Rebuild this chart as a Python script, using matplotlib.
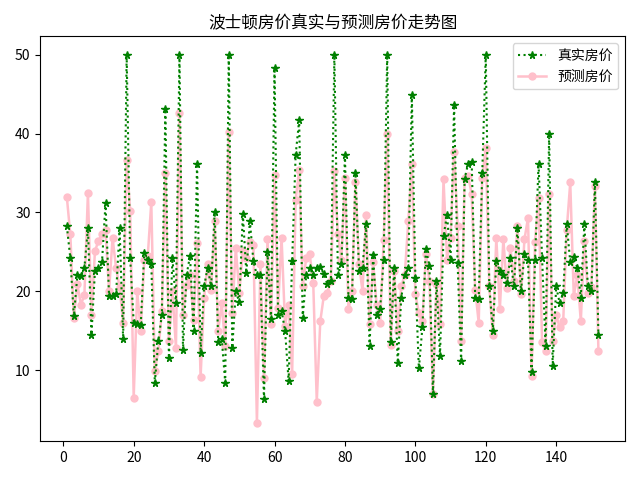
import matplotlib
matplotlib.use("Agg")
import matplotlib.pyplot as plt
import numpy as np

plt.rcParams['font.family'] = ['Noto Sans CJK SC', 'DejaVu Sans']
plt.rcParams['axes.unicode_minus'] = False

real_price = [
    28.3, 24.2, 16.8, 22.0, 21.9, 23.0, 28.0, 14.5, 22.6, 23.0,
    23.7, 31.2, 19.4, 19.4, 19.6, 28.0, 13.9, 50.0, 24.2, 16.0,
    15.9, 15.7, 24.9, 24.0, 23.4, 8.4, 13.7, 17.0, 43.1, 11.5,
    24.2, 18.5, 50.0, 12.6, 22.0, 24.5, 14.9, 36.2, 12.2, 20.6,
    23.0, 20.6, 30.1, 13.5, 14.0, 8.4, 50.0, 12.8, 20.0, 18.6,
    29.8, 22.3, 28.9, 23.8, 22.0, 22.0, 6.3, 25.0, 16.5, 48.3,
    17.0, 17.5, 15.0, 8.6, 23.8, 37.3, 41.7, 16.6, 22.0, 23.0,
    22.0, 23.0, 23.1, 22.2, 20.9, 21.3, 50.0, 22.1, 23.4, 37.3,
    19.2, 19.0, 35.0, 22.6, 23.0, 28.5, 13.0, 24.6, 17.0, 17.8,
    24.0, 50.0, 13.6, 23.0, 10.9, 19.2, 22.0, 23.0, 44.9, 21.7,
    10.2, 15.4, 25.4, 23.2, 7.0, 21.3, 11.8, 27.0, 29.7, 24.0,
    43.6, 23.6, 11.1, 34.3, 36.2, 36.4, 19.2, 19.0, 35.0, 50.0,
    20.6, 15.0, 23.8, 22.6, 22.1, 21.1, 24.2, 20.6, 28.0, 20.0,
    24.7, 24.0, 9.8, 24.0, 36.2, 24.2, 13.0, 39.9, 10.5, 20.6,
    18.5, 19.8, 28.5, 23.7, 24.4, 23.0, 19.2, 28.5, 20.6, 20.0,
    33.8, 14.5,
]

pred_price = [
    32.0, 27.2, 16.6, 20.9, 18.3, 19.5, 32.5, 17.0, 25.1, 26.4,
    27.2, 27.8, 20.0, 26.8, 22.9, 20.5, 16.0, 36.7, 30.2, 6.5,
    20.0, 14.9, 24.0, 24.5, 31.3, 9.9, 12.4, 17.5, 35.0, 13.7,
    20.0, 12.8, 42.6, 17.0, 20.8, 22.0, 16.4, 26.1, 9.1, 19.2,
    23.4, 20.2, 28.9, 15.0, 18.5, 13.0, 40.2, 17.3, 25.5, 19.8,
    25.1, 24.2, 26.3, 25.9, 3.3, 23.4, 9.0, 26.6, 15.8, 34.8,
    17.9, 26.8, 15.6, 18.3, 9.5, 31.6, 35.4, 20.6, 24.2, 24.7,
    21.0, 6.0, 16.2, 19.4, 19.8, 21.3, 35.2, 27.2, 24.0, 34.4,
    17.7, 20.0, 33.8, 23.4, 20.0, 29.7, 15.8, 23.7, 18.3, 16.0,
    26.5, 39.9, 13.2, 22.6, 14.9, 20.6, 22.1, 28.9, 36.1, 19.6,
    17.3, 16.2, 24.7, 21.3, 6.9, 20.9, 15.8, 34.2, 24.0, 26.8,
    37.7, 28.3, 13.7, 34.4, 34.6, 32.3, 20.2, 16.0, 34.4, 38.2,
    20.6, 14.5, 26.8, 17.7, 26.6, 20.4, 25.5, 21.3, 28.3, 19.6,
    26.6, 29.3, 9.2, 26.3, 31.8, 13.5, 12.4, 32.3, 13.7, 17.0,
    15.4, 16.2, 27.8, 33.8, 19.4, 22.0, 16.2, 26.4, 19.8, 20.5,
    33.3, 12.4,
]

x = np.arange(1, len(real_price) + 1)

fig, ax = plt.subplots(figsize=(6.4, 4.8), dpi=100)
ax.plot(x, real_price, 'g:*', markersize=5.5, linewidth=1.5, label='真实房价', zorder=3)
ax.plot(x, pred_price, color='pink', marker='o', markersize=5, linewidth=1.8, label='预测房价', zorder=2)
ax.set_title('波士顿房价真实与预测房价走势图')
ax.legend(loc='upper right')
fig.tight_layout()
fig.savefig('out.png')
